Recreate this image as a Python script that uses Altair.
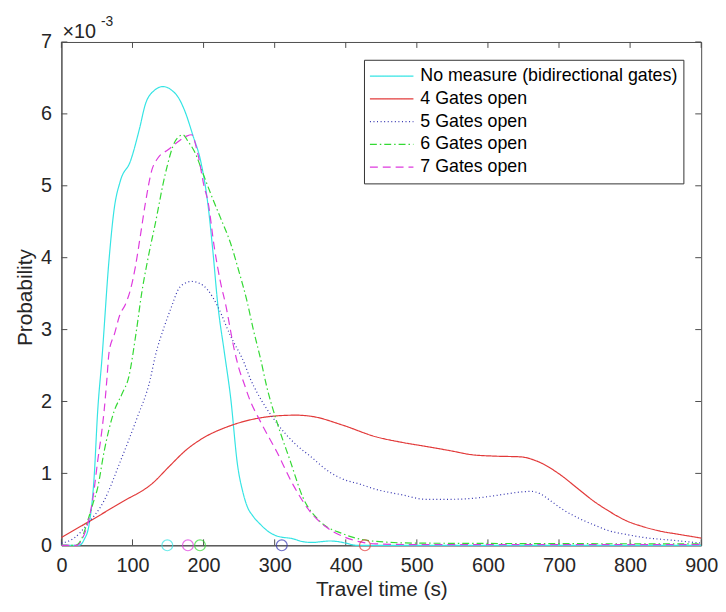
import altair as alt
import pandas as pd

series_names = ["No measure (bidirectional gates)", "4 Gates open", "5 Gates open",
                "6 Gates open", "7 Gates open"]
colors = ["#35e4e4", "#e23a3a", "#3434b0", "#33d933", "#de3ade"]
dashes = [[1, 0], [1, 0], [1, 2.6], [7, 3, 1.5, 3], [8, 5]]

nm_x = [0, 25, 32, 39, 46, 51, 57, 67, 74, 83, 97, 110, 118, 130, 143, 155, 165, 174, 185,
        196, 206, 213, 220, 229, 238, 248, 255, 261, 270, 280, 290, 303, 326, 340, 354, 365,
        377, 390, 400, 415, 450, 900]
nm_y = [0, 0, 0.08, 0.29, 0.94, 1.86, 2.59, 3.97, 4.66, 5.07, 5.34, 5.8, 6.13, 6.32, 6.38,
        6.33, 6.22, 6.03, 5.7, 5.34, 4.75, 4.1, 3.35, 2.7, 2.06, 1.1, 0.75, 0.55, 0.4, 0.29,
        0.2, 0.13, 0.09, 0.05, 0.04, 0.05, 0.06, 0.05, 0.03, 0.0, 0.0, 0.0]

g4_x = [0, 37, 83, 129, 152, 176, 199, 234, 268, 303, 330, 354, 396, 442, 480, 516, 550, 577,
        610, 646, 669, 702, 725, 748, 771, 795, 818, 841, 870, 900]
g4_y = [0.11, 0.32, 0.59, 0.87, 1.10, 1.33, 1.49, 1.65, 1.75, 1.80, 1.81, 1.79, 1.67, 1.51,
        1.43, 1.37, 1.31, 1.26, 1.24, 1.23, 1.17, 0.98, 0.80, 0.62, 0.47, 0.34, 0.26, 0.20,
        0.15, 0.10]

g5_x = [0, 18, 37, 60, 83, 106, 125, 132, 145, 155, 164, 175, 183, 195, 206, 220, 238, 257,
        266, 275, 303, 330, 350, 377, 396, 420, 442, 480, 512, 550, 586, 623, 645, 660, 675,
        688, 705, 725, 750, 771, 795, 818, 860, 900]
g5_y = [0.03, 0.1, 0.3, 0.62, 1.17, 1.76, 2.31, 2.63, 3.05, 3.32, 3.55, 3.65, 3.67, 3.64,
        3.55, 3.32, 2.91, 2.54, 2.31, 2.13, 1.70, 1.40, 1.24, 1.02, 0.92, 0.85, 0.78, 0.70,
        0.64, 0.64, 0.66, 0.71, 0.74, 0.75, 0.71, 0.62, 0.50, 0.39, 0.28, 0.20, 0.15, 0.11,
        0.07, 0.03]

g6_x = [0, 20, 28, 37, 45, 51, 60, 74, 85, 95, 105, 113, 122, 132, 146, 160, 166, 171, 178,
        187, 200, 210, 224, 238, 250, 261, 270, 280, 289, 303, 322, 340, 363, 396, 442, 500,
        900]
g6_y = [0, 0, 0.08, 0.34, 0.6, 0.80, 1.30, 1.86, 2.1, 2.35, 2.95, 3.51, 4.0, 4.47, 5.16,
        5.62, 5.69, 5.71, 5.62, 5.48, 5.15, 4.89, 4.55, 4.2, 3.8, 3.4, 3.0, 2.6, 2.2, 1.72,
        1.17, 0.66, 0.34, 0.16, 0.055, 0.03, 0.02]

g7_x = [0, 22, 30, 37, 45, 51, 57, 60, 64, 67, 75, 82, 90, 97, 104, 111, 118, 127, 136, 150,
        165, 176, 183, 192, 201, 206, 215, 224, 231, 243, 250, 257, 264, 280, 303, 326, 349,
        373, 405, 442, 500, 900]
g7_y = [0, 0, 0.1, 0.3, 0.7, 1.17, 1.6, 1.86, 2.31, 2.68, 2.95, 3.2, 3.35, 3.55, 3.87, 4.3,
        4.75, 5.21, 5.39, 5.5, 5.62, 5.69, 5.71, 5.44, 4.98, 4.79, 4.15, 3.65, 3.35, 2.73,
        2.45, 2.25, 2.05, 1.72, 1.30, 0.84, 0.48, 0.25, 0.09, 0.02, 0.01, 0.01]

mean_x = [149, 427, 310, 195, 178]

x_ticks = [0, 100, 200, 300, 400, 500, 600, 700, 800, 900]
y_ticks = [0, 1, 2, 3, 4, 5, 6, 7]

W, H = 647, 509
FONT = "Liberation Sans"
AX = "#4d4d4d"
TXT = "#262626"

rows = []
for name, xs, ys in zip(series_names, [nm_x, g4_x, g5_x, g6_x, g7_x],
                        [nm_y, g4_y, g5_y, g6_y, g7_y]):
    for i, (xv, yv) in enumerate(zip(xs, ys)):
        rows.append({"series": name, "t": xv, "p": yv, "idx": i})
df = pd.DataFrame(rows)
df_mean = pd.DataFrame({"series": series_names, "t": mean_x, "p": [0] * 5})

xscale = alt.Scale(domain=[0, 900], nice=False, zero=False)
yscale = alt.Scale(domain=[0, 7], nice=False)
cscale = alt.Scale(domain=series_names, range=colors)
dscale = alt.Scale(domain=series_names, range=dashes)

legend = alt.Legend(title=None, orient="none", legendX=306, legendY=18,
                    symbolType="stroke", symbolSize=1936, symbolStrokeWidth=1.2,
                    labelFontSize=18, labelFont=FONT, labelColor="#000000",
                    labelLimit=500, padding=5, rowPadding=0, clipHeight=23,
                    labelOffset=6, strokeColor="#333333", fillColor="white")

xaxis = alt.Axis(values=x_ticks, tickSize=0, labelFontSize=20, labelFont=FONT,
                 labelColor=TXT, labelPadding=11, grid=False, domainColor=AX,
                 title="Travel time (s)", titleFont=FONT, titleFontSize=21,
                 titleFontWeight="normal", titleColor=TXT, titleY=45,
                 titleBaseline="middle", labelFlush=False)
yaxis = alt.Axis(values=y_ticks, format="d", tickSize=0, labelFontSize=20, labelFont=FONT,
                 labelColor=TXT, labelPadding=10, grid=False, domainColor=AX,
                 title="Probability", titleFont=FONT, titleFontSize=21,
                 titleFontWeight="normal", titleColor=TXT, titleX=-36, titleY=258,
                 titleAngle=270, titleBaseline="middle", titleAlign="center",
                 labelFlush=False)

lines = alt.Chart(df).mark_line(strokeWidth=1.2, interpolate="monotone").encode(
    x=alt.X("t:Q", scale=xscale, axis=xaxis),
    y=alt.Y("p:Q", scale=yscale, axis=yaxis),
    color=alt.Color("series:N", scale=cscale, legend=legend),
    strokeDash=alt.StrokeDash("series:N", scale=dscale, legend=legend),
    order="idx:Q",
)

means = alt.Chart(df_mean).mark_point(shape="circle", filled=False, size=120,
                                      strokeWidth=1.2).encode(
    x=alt.X("t:Q", scale=xscale),
    y=alt.Y("p:Q", scale=yscale),
    color=alt.Color("series:N", scale=cscale, legend=None),
)

xt = pd.DataFrame({"t": x_ticks})
yt = pd.DataFrame({"p": y_ticks})
tick_b = alt.Chart(xt).mark_rule(color=AX, strokeWidth=1).encode(
    x=alt.X("t:Q", scale=xscale), y=alt.value(H), y2=alt.value(H - 6))
tick_t = alt.Chart(xt).mark_rule(color=AX, strokeWidth=1).encode(
    x=alt.X("t:Q", scale=xscale), y=alt.value(0), y2=alt.value(6))
tick_l = alt.Chart(yt).mark_rule(color=AX, strokeWidth=1).encode(
    y=alt.Y("p:Q", scale=yscale), x=alt.value(0), x2=alt.value(6))
tick_r = alt.Chart(yt).mark_rule(color=AX, strokeWidth=1).encode(
    y=alt.Y("p:Q", scale=yscale), x=alt.value(W), x2=alt.value(W - 6))

one = pd.DataFrame({"a": [0]})
exp_base = alt.Chart(one).mark_text(text="×10", align="left", baseline="alphabetic",
                                    fontSize=20, font=FONT, color=TXT).encode(
    x=alt.value(1), y=alt.value(-4))
exp_sup = alt.Chart(one).mark_text(text="-3", align="left", baseline="alphabetic",
                                   fontSize=14, font=FONT, color=TXT).encode(
    x=alt.value(40), y=alt.value(-16))

chart = alt.layer(tick_b, tick_t, tick_l, tick_r, lines, means, exp_base, exp_sup).properties(
    width=W, height=H,
    autosize=alt.AutoSizeParams(type="none"),
    padding={"left": 54, "top": 31, "right": 17, "bottom": 56},
    background="white",
).configure_view(stroke=AX, strokeWidth=1)

chart.save("out.html", embed_options={"renderer": "svg", "actions": False})
